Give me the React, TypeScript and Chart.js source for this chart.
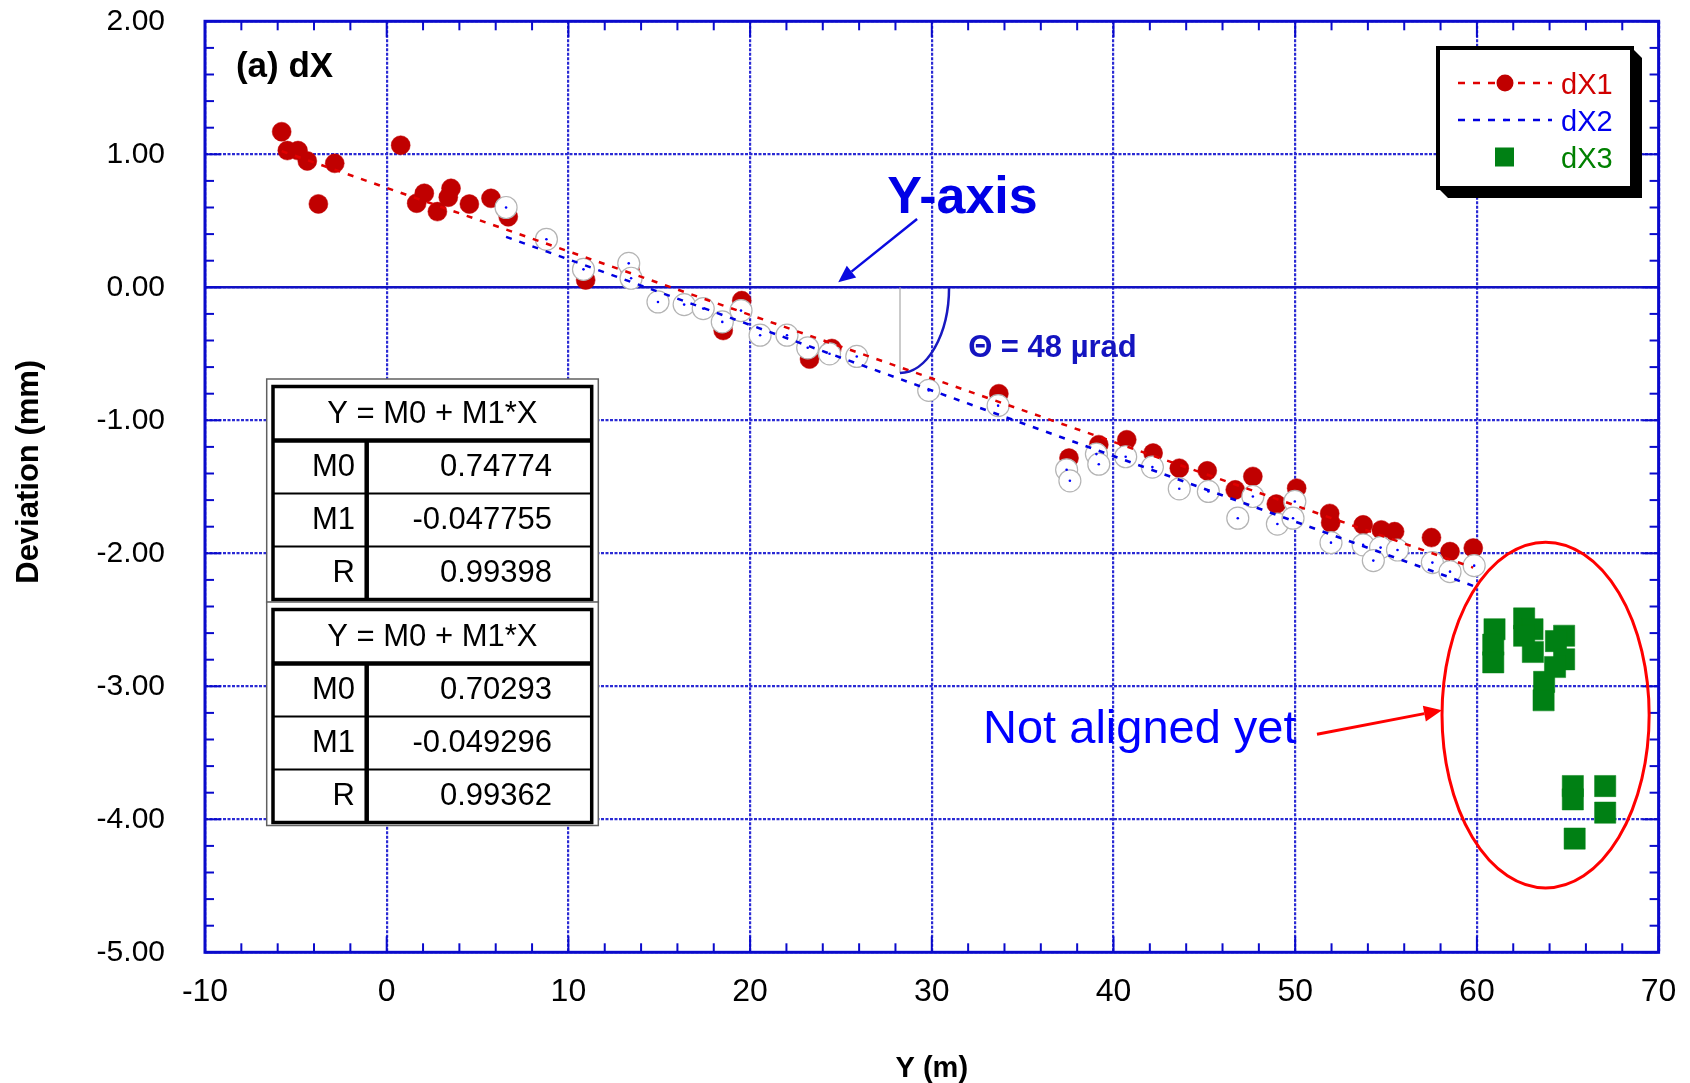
import React, { useEffect, useRef } from 'react';
import { Chart, registerables } from 'chart.js';

Chart.register(...registerables);

const FONT = '"Liberation Sans", Arial, Helvetica, sans-serif';

// ---- data ----
const dX1X = [-5.78, -5.47, -4.88, -4.37, -3.76, -2.86, 0.77, 1.65, 2.07, 2.79, 3.39, 3.54, 4.55, 5.74, 6.69, 10.95, 13.4, 18.52, 19.54, 23.27, 24.5, 33.69, 37.55, 39.19, 40.73, 42.18, 43.62, 45.16, 46.7, 47.67, 48.96, 50.08, 51.9, 51.95, 53.74, 54.74, 55.47, 57.5, 58.52, 59.8];
const dX1Y = [1.17, 1.028, 1.028, 0.95, 0.627, 0.932, 1.068, 0.632, 0.707, 0.569, 0.677, 0.744, 0.626, 0.669, 0.53, 0.055, 0.125, -0.325, -0.1, -0.54, -0.46, -0.8, -1.284, -1.183, -1.146, -1.246, -1.36, -1.38, -1.523, -1.422, -1.63, -1.51, -1.7, -1.77, -1.786, -1.824, -1.837, -1.882, -1.987, -1.96];

const dX2X = [6.57, 8.79, 10.83, 13.32, 13.45, 14.93, 16.37, 17.42, 18.47, 19.5, 20.55, 22.03, 23.17, 24.37, 25.87, 29.83, 33.65, 37.42, 37.6, 39.06, 39.19, 40.67, 42.14, 43.62, 45.22, 46.84, 47.67, 49.02, 49.98, 49.88, 51.97, 53.74, 54.7, 54.3, 55.63, 57.55, 58.52, 59.85];
const dX2Y = [0.6, 0.361, 0.135, 0.18, 0.068, -0.11, -0.13, -0.16, -0.26, -0.175, -0.36, -0.36, -0.455, -0.5, -0.52, -0.775, -0.89, -1.372, -1.455, -1.254, -1.33, -1.274, -1.352, -1.515, -1.535, -1.736, -1.573, -1.78, -1.61, -1.736, -1.92, -1.937, -1.957, -2.055, -1.975, -2.07, -2.138, -2.093];

const dX3X = [60.97, 60.9, 60.9, 62.6, 63.06, 62.6, 63.08, 64.8, 64.35, 64.8, 64.3, 63.7, 63.67, 65.28, 65.28, 67.06, 67.06, 65.38];
const dX3Y = [-2.571, -2.687, -2.82, -2.49, -2.571, -2.62, -2.742, -2.62, -2.66, -2.797, -2.855, -2.967, -3.105, -3.75, -3.85, -3.75, -3.95, -4.145];

const seriesLabels = ['dX1', 'dX2', 'dX3'];

// linear fit results shown in the tables
const fitHeader = 'Y = M0 + M1*X';
const fitRowLabels = ['M0', 'M1', 'R'];
const fit1Values = ['0.74774', '-0.047755', '0.99398'];
const fit2Values = ['0.70293', '-0.049296', '0.99362'];

// axes
const X_MIN = -10, X_MAX = 70, X_STEP = 10, X_MINOR = 2;
const Y_MIN = -5, Y_MAX = 2, Y_STEP = 1, Y_MINOR = 0.2;
const xTitle = 'Y (m)';
const yTitle = 'Deviation (mm)';

// ---- styles ----
const RED = '#c00000';
const GREEN = '#008014';
const AXIS_BLUE = '#0a0acc';
const GRID_BLUE = '#2a2ad4';

const pts = (xs: number[], ys: number[]) => xs.map((x, i) => ({ x, y: ys[i] }));
const fitLine = (xs: number[], m0: string, m1: string) => {
  const a = parseFloat(m0), b = parseFloat(m1);
  const lo = Math.min(...xs), hi = Math.max(...xs);
  return [{ x: lo, y: a + b * lo }, { x: hi, y: a + b * hi }];
};

function seg(ctx: CanvasRenderingContext2D, x1: number, y1: number, x2: number, y2: number) {
  ctx.beginPath();
  ctx.moveTo(x1, y1);
  ctx.lineTo(x2, y2);
  ctx.stroke();
}

function arrow(ctx: CanvasRenderingContext2D, x1: number, y1: number, x2: number, y2: number, color: string, w: number, hl: number, hw: number) {
  const ang = Math.atan2(y2 - y1, x2 - x1);
  const bx = x2 - hl * Math.cos(ang), by = y2 - hl * Math.sin(ang);
  ctx.strokeStyle = color;
  ctx.fillStyle = color;
  ctx.lineWidth = w;
  seg(ctx, x1, y1, bx, by);
  ctx.beginPath();
  ctx.moveTo(x2, y2);
  ctx.lineTo(bx + hw * Math.sin(ang), by - hw * Math.cos(ang));
  ctx.lineTo(bx - hw * Math.sin(ang), by + hw * Math.cos(ang));
  ctx.closePath();
  ctx.fill();
}

function drawTable(ctx: CanvasRenderingContext2D, T: number, values: string[]) {
  const OL = 266.7, OR = 598.3, L = 273, R = 591.7, D = 366.7;
  ctx.fillStyle = '#fff';
  ctx.fillRect(OL, T - 7.5, OR - OL, 223.5);
  ctx.strokeStyle = '#606060';
  ctx.lineWidth = 1.5;
  ctx.strokeRect(OL, T - 7.5, OR - OL, 223.5);
  ctx.strokeStyle = '#000';
  ctx.lineWidth = 3.5;
  ctx.strokeRect(L, T, R - L, 213);
  ctx.lineWidth = 4.5;
  seg(ctx, L, T + 54, R, T + 54);
  ctx.lineWidth = 2;
  seg(ctx, L, T + 107, R, T + 107);
  seg(ctx, L, T + 160, R, T + 160);
  ctx.lineWidth = 4.5;
  seg(ctx, D, T + 54, D, T + 213);
  ctx.fillStyle = '#000';
  ctx.font = `31px ${FONT}`;
  ctx.textBaseline = 'middle';
  ctx.textAlign = 'center';
  ctx.fillText(fitHeader, (L + R) / 2, T + 28);
  const rowsY = [T + 81, T + 134, T + 187];
  fitRowLabels.forEach((lab, i) => {
    ctx.textAlign = 'right';
    ctx.fillText(lab, 355, rowsY[i]);
    ctx.fillText(values[i], 552, rowsY[i]);
  });
}

function drawLegend(ctx: CanvasRenderingContext2D) {
  const L = 1438, T = 48, R = 1632, B = 188, S = 10;
  ctx.fillStyle = '#000';
  ctx.beginPath();
  ctx.moveTo(R, T);
  ctx.lineTo(R + S, T + S);
  ctx.lineTo(R + S, B + S);
  ctx.lineTo(L + S, B + S);
  ctx.lineTo(L, B);
  ctx.closePath();
  ctx.fill();
  ctx.fillStyle = '#fff';
  ctx.fillRect(L, T, R - L, B - T);
  ctx.strokeStyle = '#000';
  ctx.lineWidth = 4;
  ctx.strokeRect(L, T, R - L, B - T);

  const rows = [83, 120, 157];
  ctx.setLineDash([7, 8]);
  ctx.lineWidth = 2.5;
  ctx.strokeStyle = '#e00000';
  seg(ctx, 1458, rows[0], 1552, rows[0]);
  ctx.strokeStyle = '#0000e0';
  seg(ctx, 1458, rows[1], 1552, rows[1]);
  ctx.setLineDash([]);
  ctx.fillStyle = RED;
  ctx.beginPath();
  ctx.arc(1505, rows[0], 8.5, 0, Math.PI * 2);
  ctx.fill();
  ctx.fillStyle = '#0000ff';
  ctx.beginPath();
  ctx.arc(1505, rows[1], 1.3, 0, Math.PI * 2);
  ctx.fill();
  ctx.fillStyle = GREEN;
  ctx.fillRect(1495, rows[2] - 9.5, 19, 19);

  ctx.font = `29px ${FONT}`;
  ctx.textAlign = 'left';
  ctx.textBaseline = 'alphabetic';
  const cols = ['#d00000', '#0000ee', '#008000'];
  seriesLabels.forEach((s, i) => {
    ctx.fillStyle = cols[i];
    ctx.fillText(s, 1561, rows[i] + 10.5);
  });
}

const framePlugin = {
  id: 'frame',
  beforeDatasetsDraw(chart: any) {
    const { ctx, chartArea: a } = chart;
    const xs = chart.scales.x, ys = chart.scales.y;
    ctx.save();
    ctx.strokeStyle = '#1212c4';
    ctx.lineWidth = 2.5;
    const y0 = ys.getPixelForValue(0);
    seg(ctx, a.left, y0, a.right, y0);
    ctx.strokeStyle = AXIS_BLUE;
    ctx.lineWidth = 3;
    ctx.strokeRect(a.left, a.top, a.right - a.left, a.bottom - a.top);
    ctx.lineWidth = 2;
    const nx = Math.round((X_MAX - X_MIN) / X_MINOR);
    for (let i = 0; i <= nx; i++) {
      const v = X_MIN + i * X_MINOR;
      const p = xs.getPixelForValue(v);
      const major = Math.abs(v / X_STEP - Math.round(v / X_STEP)) < 1e-6;
      const len = major ? 16 : 9;
      seg(ctx, p, a.bottom, p, a.bottom - len);
      seg(ctx, p, a.top, p, a.top + len);
    }
    const ny = Math.round((Y_MAX - Y_MIN) / Y_MINOR);
    for (let i = 0; i <= ny; i++) {
      const v = Y_MIN + i * Y_MINOR;
      const p = ys.getPixelForValue(v);
      const major = Math.abs(v / Y_STEP - Math.round(v / Y_STEP)) < 1e-6;
      const len = major ? 16 : 9;
      seg(ctx, a.left, p, a.left + len, p);
      seg(ctx, a.right, p, a.right - len, p);
    }
    ctx.restore();
  },
};

const annotationPlugin = {
  id: 'annotations',
  afterDraw(chart: any) {
    const { ctx, chartArea: a } = chart;
    const xs = chart.scales.x, ys = chart.scales.y;
    const X = (v: number) => xs.getPixelForValue(v);
    const Y = (v: number) => ys.getPixelForValue(v);
    ctx.save();

    ctx.save();
    ctx.translate(29, (a.top + a.bottom) / 2 - 15);
    ctx.rotate(-Math.PI / 2);
    ctx.font = `bold 31px ${FONT}`;
    ctx.fillStyle = '#000';
    ctx.textAlign = 'center';
    ctx.textBaseline = 'middle';
    ctx.fillText(yTitle, 0, 0);
    ctx.restore();

    ctx.textBaseline = 'alphabetic';
    ctx.font = `bold 35px ${FONT}`;
    ctx.fillStyle = '#000';
    ctx.textAlign = 'left';
    ctx.fillText('(a) dX', X(-8.3), Y(1.58));

    ctx.font = `bold 52px ${FONT}`;
    ctx.fillStyle = '#0000e6';
    ctx.textAlign = 'center';
    ctx.fillText('Y-axis', X(31.69), Y(0.559));
    arrow(ctx, X(29.19), Y(0.514), X(24.85), Y(0.038), '#0a0ae0', 2.5, 17, 7.5);

    ctx.strokeStyle = '#a8a8a8';
    ctx.lineWidth = 1.2;
    seg(ctx, X(28.25), Y(0), X(28.25), Y(-0.644));
    ctx.strokeStyle = '#1818c0';
    ctx.lineWidth = 2.5;
    ctx.beginPath();
    ctx.ellipse(X(28.25), Y(0), X(30.95) - X(28.25), Y(-0.644) - Y(0), 0, 0, Math.PI / 2);
    ctx.stroke();
    ctx.font = `bold 31px ${FONT}`;
    ctx.fillStyle = '#1414c0';
    ctx.textAlign = 'left';
    ctx.fillText('\u0398 = 48 \u00b5rad', X(32.0), Y(-0.524));

    ctx.font = `47px ${FONT}`;
    ctx.fillStyle = '#0000ff';
    ctx.fillText('Not aligned yet', X(32.82), Y(-3.426));
    arrow(ctx, X(51.2), Y(-3.36), X(58.08), Y(-3.18), '#ff0000', 3, 18, 8);
    ctx.strokeStyle = '#ff0000';
    ctx.lineWidth = 3;
    ctx.beginPath();
    ctx.ellipse(X(63.78), Y(-3.216), X(69.48) - X(63.78), Y(-4.516) - Y(-3.216), 0, 0, Math.PI * 2);
    ctx.stroke();

    drawTable(ctx, 386.5, fit1Values);
    drawTable(ctx, 609.5, fit2Values);

    drawLegend(ctx);
    ctx.restore();
  },
};

const noPad = (s: any) => {
  s.paddingTop = 0;
  s.paddingBottom = 0;
  s.paddingLeft = 0;
  s.paddingRight = 0;
};

export default function App() {
  const ref = useRef<HTMLCanvasElement | null>(null);
  useEffect(() => {
    const canvas = ref.current;
    if (!canvas) return;
    const p1 = pts(dX1X, dX1Y);
    const p2 = pts(dX2X, dX2Y);
    const p3 = pts(dX3X, dX3Y);
    const chart = new Chart(canvas, {
      type: 'scatter',
      data: {
        datasets: [
          { label: 'dX2 centre', data: p2, pointRadius: 1.3, pointBackgroundColor: '#0000ff', pointBorderWidth: 0, backgroundColor: '#0000ff', order: 0 } as any,
          { type: 'line', label: 'fit dX1', data: fitLine(dX1X, fit1Values[0], fit1Values[1]), borderColor: '#e00000', borderWidth: 2.5, borderDash: [6, 8], pointRadius: 0, showLine: true, fill: false, order: 1 } as any,
          { type: 'line', label: 'fit dX2', data: fitLine(dX2X, fit2Values[0], fit2Values[1]), borderColor: '#0000e0', borderWidth: 2.5, borderDash: [6, 8], pointRadius: 0, showLine: true, fill: false, order: 2 } as any,
          { label: seriesLabels[1], data: p2, pointRadius: 11, backgroundColor: '#ffffff', borderColor: '#b4b4b4', borderWidth: 1.2, order: 3 } as any,
          { label: seriesLabels[0], data: p1, pointRadius: 9.5, backgroundColor: RED, borderColor: RED, borderWidth: 0.5, order: 4 } as any,
          { label: seriesLabels[2], data: p3, pointStyle: 'rect', pointRadius: 15, backgroundColor: GREEN, borderColor: GREEN, borderWidth: 0.5, order: 5 } as any,
        ],
      },
      options: {
        animation: false,
        responsive: true,
        maintainAspectRatio: false,
        devicePixelRatio: 1,
        events: [],
        layout: { padding: { left: 0, top: 21.3, right: 31.4, bottom: 0 } },
        plugins: { legend: { display: false }, tooltip: { enabled: false }, title: { display: false } },
        scales: {
          x: {
            type: 'linear',
            min: X_MIN,
            max: X_MAX,
            afterFit: (s: any) => { s.height = 1083 - 952.3; noPad(s); },
            ticks: { stepSize: X_STEP, autoSkip: false, padding: 21, maxRotation: 0, color: '#000', font: { family: FONT, size: 32 }, callback: (v: any) => String(v) },
            grid: { color: GRID_BLUE, lineWidth: 2.2, drawTicks: false },
            border: { display: false, dash: [3, 1.5] },
            title: { display: true, text: xTitle, color: '#000', font: { family: FONT, size: 29, weight: 'bold', lineHeight: 1 }, padding: { top: 0, bottom: 0 } },
          },
          y: {
            type: 'linear',
            min: Y_MIN,
            max: Y_MAX,
            afterFit: (s: any) => { s.width = 205; noPad(s); },
            ticks: { stepSize: Y_STEP, autoSkip: false, padding: 40, color: '#000', font: { family: FONT, size: 30 }, callback: (v: any) => Number(v).toFixed(2) },
            grid: { color: GRID_BLUE, lineWidth: 2.2, drawTicks: false },
            border: { display: false, dash: [3, 1.5] },
          },
        },
      } as any,
      plugins: [framePlugin, annotationPlugin],
    });
    return () => chart.destroy();
  }, []);
  return (
    <div style={{ position: 'absolute', left: 0, top: 0, width: 1690, height: 1083, background: '#fff' }}>
      <canvas ref={ref} />
    </div>
  );
}
